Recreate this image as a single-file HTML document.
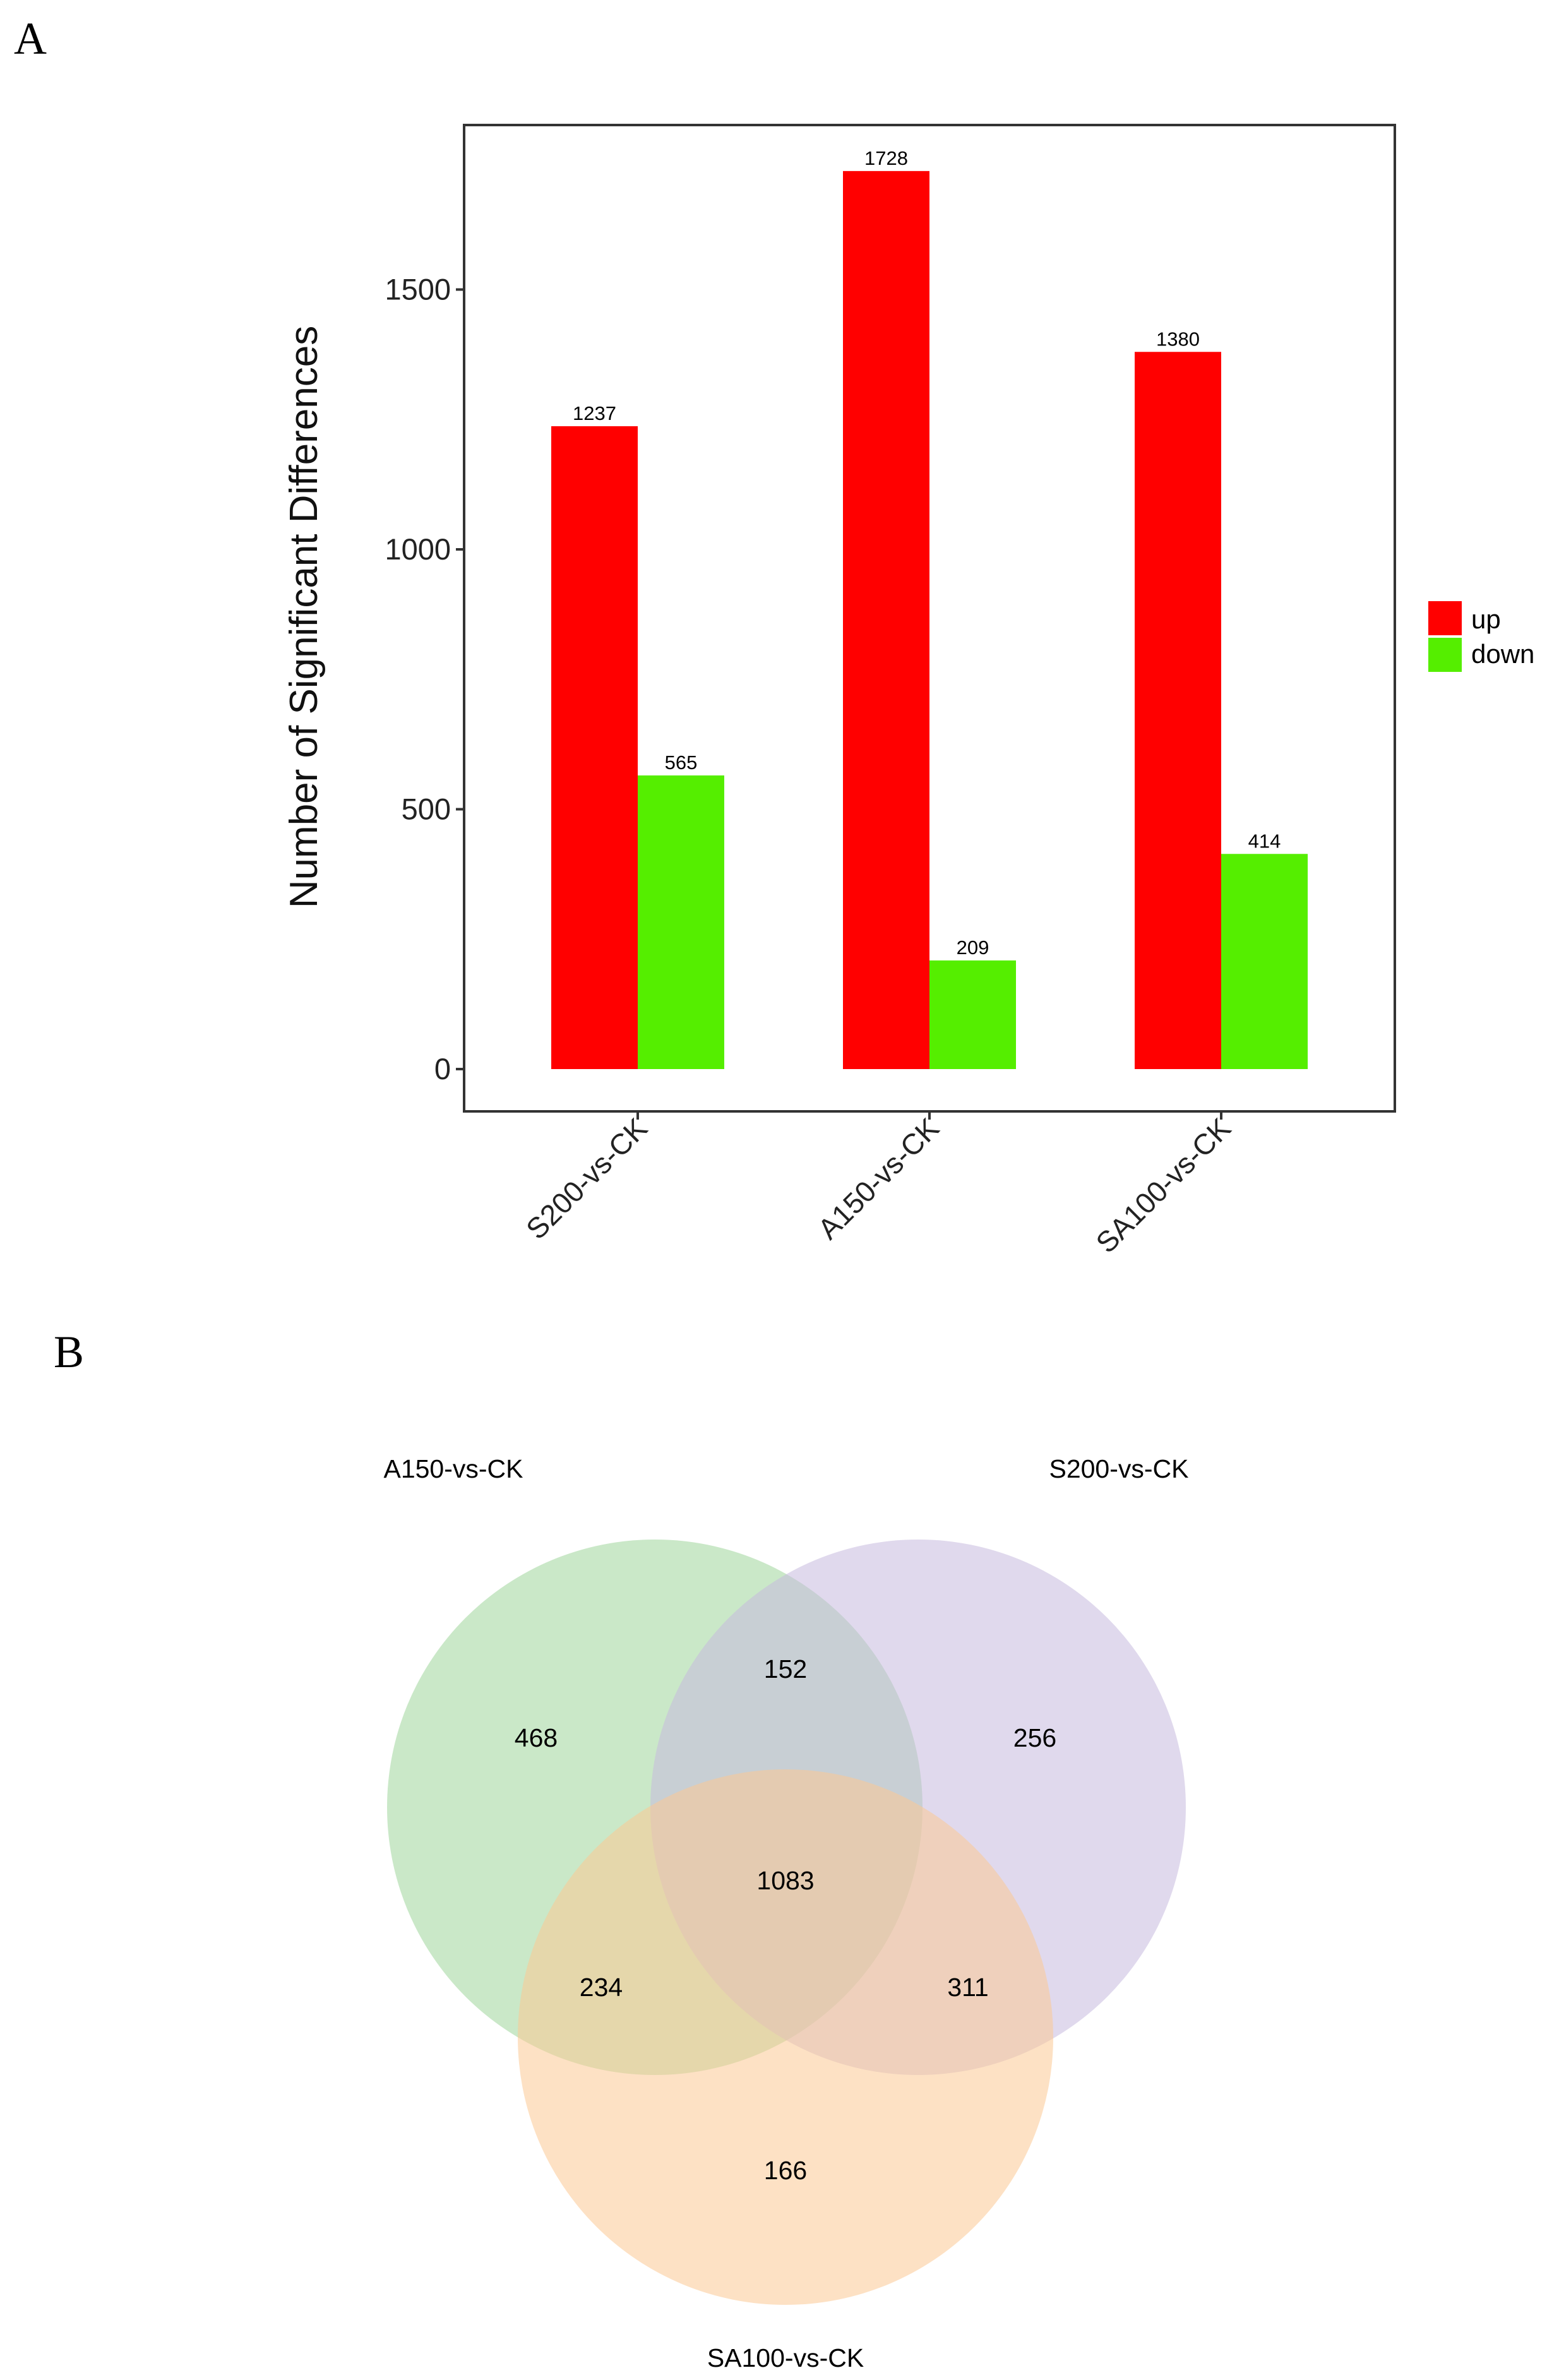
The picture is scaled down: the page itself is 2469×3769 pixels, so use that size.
<!DOCTYPE html>
<html><head><meta charset="utf-8"><style>
html,body{margin:0;padding:0;background:#fff;}
svg{display:block;font-family:"Liberation Sans",sans-serif;}
</style></head><body>
<svg id="fig" width="2469" height="3769" viewBox="0 0 2469 3769" xmlns="http://www.w3.org/2000/svg">
<rect width="2469" height="3769" fill="#fff"/>
<text x="22" y="85" font-family="Liberation Serif,serif" font-size="72">A</text>
<rect x="735" y="198" width="1474" height="1562" fill="#fff" stroke="#333" stroke-width="4"/>
<g id="bars"></g>
<text transform="translate(502,977) rotate(-90)" text-anchor="middle" font-size="62" fill="#111">Number of Significant Differences</text>
<rect x="2262" y="952" width="53" height="54" fill="#ff0000"/>
<text x="2330" y="995" font-size="42">up</text>
<rect x="2262" y="1010" width="53" height="54" fill="#55ee00"/>
<text x="2330" y="1050" font-size="42">down</text>

<text x="85" y="2165" font-family="Liberation Serif,serif" font-size="72">B</text>
<g id="venn"></g>
</svg>
<script>
const categories=["S200-vs-CK","A150-vs-CK","SA100-vs-CK"];
const upVals=[1237,1728,1380];
const downVals=[565,209,414];
const yTicks=[0,500,1000,1500];
const regionCounts=[468,152,256,1083,234,311,166];
const setNames=["A150-vs-CK","S200-vs-CK","SA100-vs-CK"];

const NS="http://www.w3.org/2000/svg";
function mk(t,a,p){const e=document.createElementNS(NS,t);for(const k in a)e.setAttribute(k,a[k]);p.appendChild(e);return e;}
const y0=1693, pxPer=411.5/500;
function yScale(v){return y0-v*pxPer;}
function xCenter(i){return 1010+i*462;}
const bw=137;
const g=document.getElementById('bars');
yTicks.forEach(t=>{
  const tl=mk('line',{x1:722,x2:735,y1:yScale(t),y2:yScale(t),stroke:'#333','stroke-width':4},g);
  
  
  const tx=mk('text',{x:714,y:yScale(t)+16,'text-anchor':'end','font-size':47,fill:'#222'},g);
  tx.textContent=t;
  
  
});
categories.forEach((c,i)=>{
  const cx=xCenter(i);
  const u=mk('rect',{x:cx-bw,y:yScale(upVals[i]),width:bw,height:y0-yScale(upVals[i]),fill:'#ff0000'},g);
  
  
  const d=mk('rect',{x:cx,y:yScale(downVals[i]),width:bw,height:y0-yScale(downVals[i]),fill:'#55ee00'},g);
  
  
  const ul=mk('text',{x:cx-bw/2,y:yScale(upVals[i])-10,'text-anchor':'middle','font-size':31},g);
  ul.textContent=upVals[i];
  
  
  const dl=mk('text',{x:cx+bw/2,y:yScale(downVals[i])-10,'text-anchor':'middle','font-size':31},g);
  dl.textContent=downVals[i];
  
  
  const tk=mk('line',{x1:cx,x2:cx,y1:1760,y2:1773,stroke:'#333','stroke-width':4},g);
  
  
  const xl=mk('text',{transform:`translate(${cx+18},${1790}) rotate(-45)`,'text-anchor':'end','font-size':46,fill:'#222'},g);
  xl.textContent=c;
  
  
});

const v=document.getElementById('venn');
const circles=[{cx:1037,cy:2862,f:'#9fd69b'},{cx:1454,cy:2862,f:'#c7b9df'},{cx:1244,cy:3226,f:'#fcc894'}];
circles.forEach((c,i)=>{
  const e=mk('circle',{cx:c.cx,cy:c.cy,r:424,fill:c.f,'fill-opacity':0.55},v);
  
  
});
const setPos=[[718,2340],[1772,2340],[1244,3748]];
setNames.forEach((n,i)=>{
  const t=mk('text',{x:setPos[i][0],y:setPos[i][1],'text-anchor':'middle','font-size':41},v);
  t.textContent=n;
  
  
});
const regPos=[[849,2752],[1244,2643],[1639,2752],[1244,2978],[952,3147],[1533,3147],[1244,3437]];
regionCounts.forEach((n,i)=>{
  const t=mk('text',{x:regPos[i][0],y:regPos[i][1]+14,'text-anchor':'middle','font-size':41},v);
  t.textContent=n;
  
  
});
</script>
</body></html>
